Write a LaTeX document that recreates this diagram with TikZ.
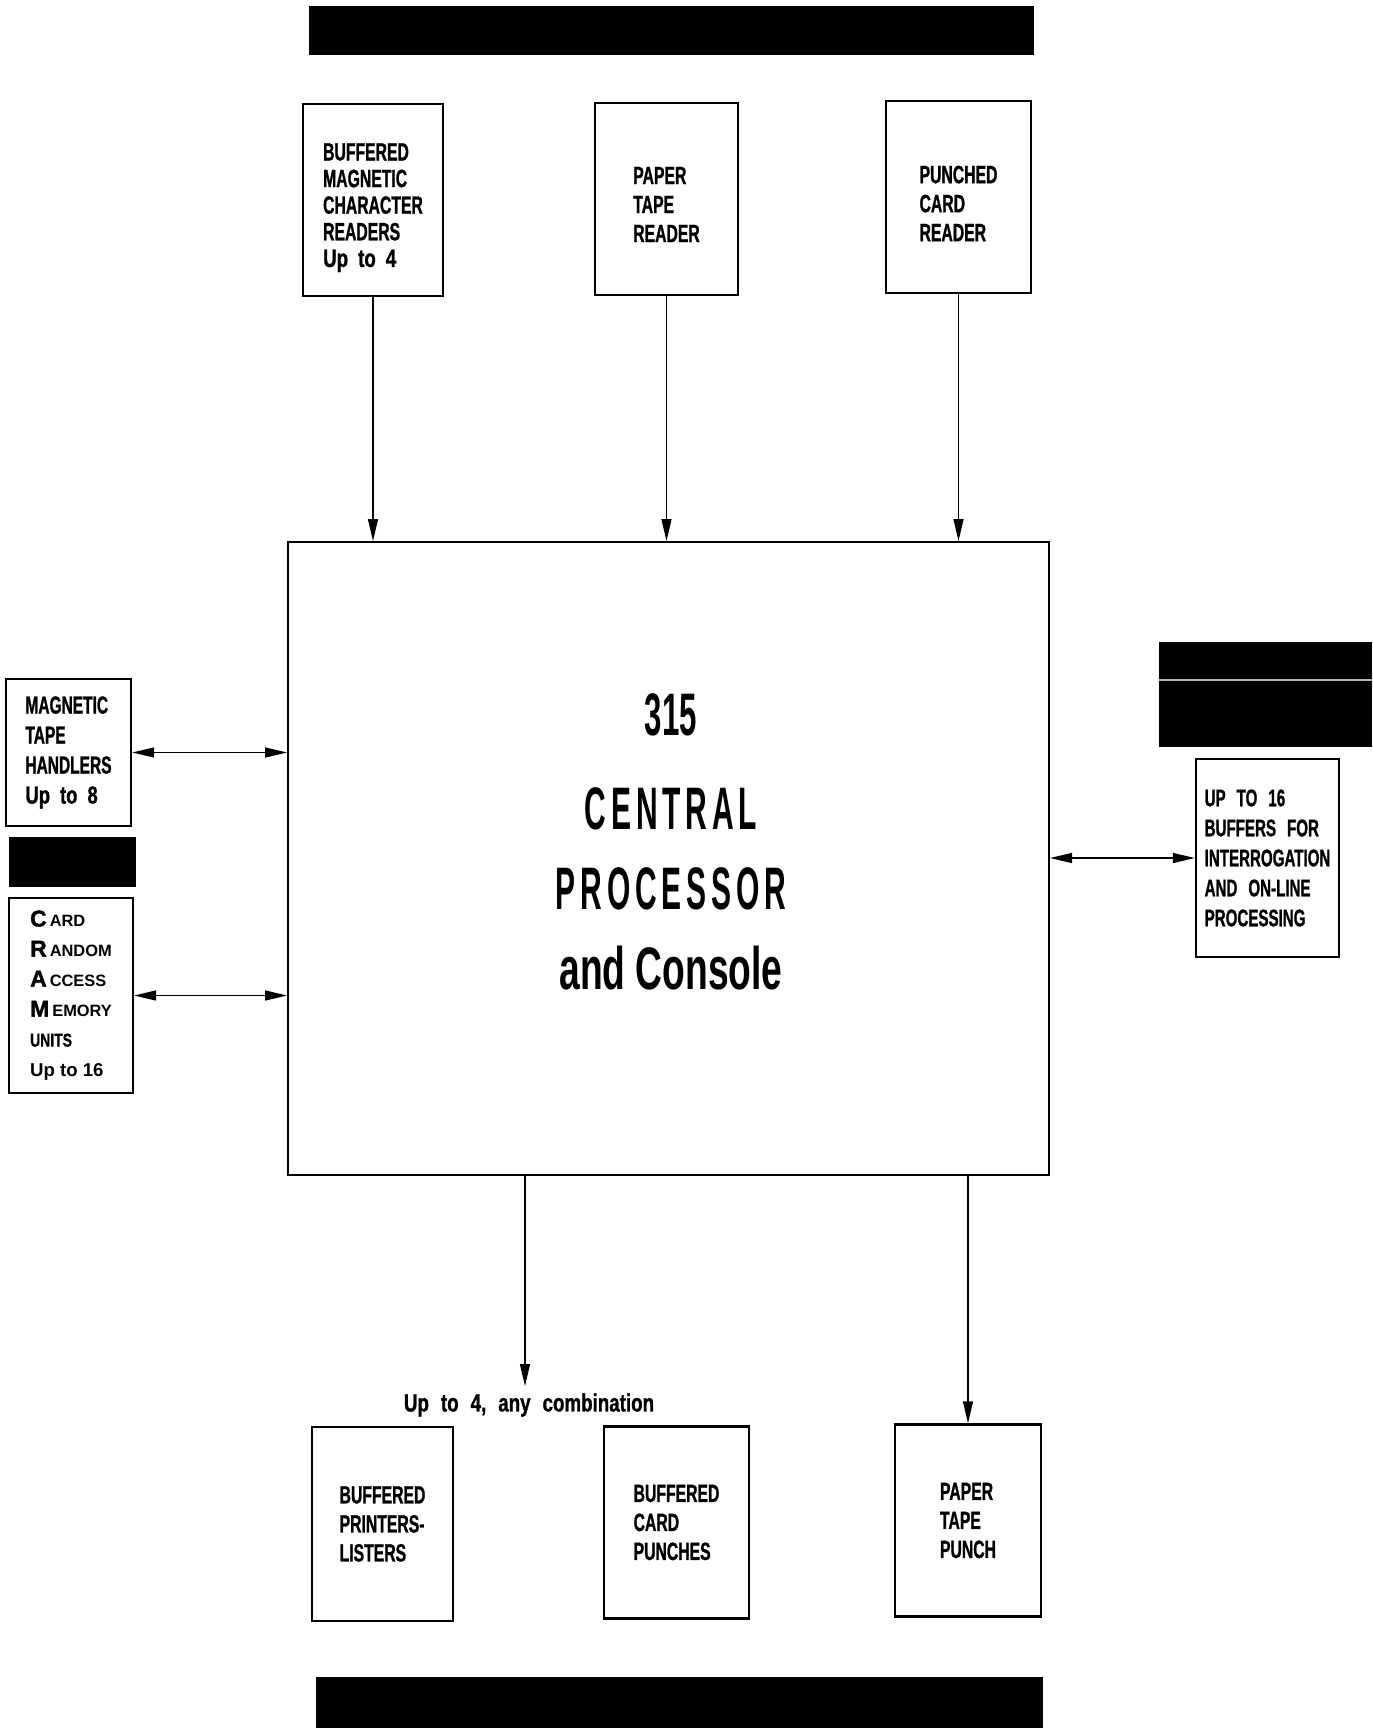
\documentclass[tikz,border=0pt]{standalone}
\usepackage{fontspec}
\setmainfont{Liberation Sans}
\newfontfamily\boxfont{Liberation Sans}[FakeStretch=0.63,FakeBold=1]
\newfontfamily\lowfont{Liberation Sans}[FakeStretch=0.75,FakeBold=1]
\newfontfamily\bigfont{Liberation Sans}[FakeStretch=0.5,LetterSpace=8]
\newfontfamily\cpufont{Liberation Sans}[FakeStretch=0.62]
\newfontfamily\numfont{Liberation Sans}[FakeStretch=0.52]
\newfontfamily\headfont{Liberation Sans}[FakeBold=1.5]
\usetikzlibrary{arrows.meta}
\newcommand\bigletter[1]{{\headfont\fontsize{11.5}{15}\selectfont #1}\kern1.5pt}
\newcommand\widespace[1]{\spaceskip=#1 plus 1pt\relax}
\tikzset{
  unit/.style={draw, line width=1.2pt, minimum width=71.5pt, minimum height=96pt,
    inner sep=0pt, align=left,
    font=\boxfont\bfseries\fontsize{12.5}{14.5}\selectfont\widespace{6pt}},
  flow/.style={line width=0.7pt, -{Triangle[length=11pt,width=5pt]}},
  both/.style={line width=0.7pt, {Triangle[length=11pt,width=5pt]}-{Triangle[length=11pt,width=5pt]}}
}
\begin{document}
\begin{tikzpicture}[x=0.5pt, y=-0.5pt]
  \useasboundingbox (0,0) rectangle (1372,1728);
  % black bars
  \fill (309,6) rectangle (1034,55);
  \fill (316,1677) rectangle (1043,1728);
  \fill (1159,642) rectangle (1372,747);
  \draw [gray!60, line width=0.8pt] (1159,680) -- (1372,680);
  \fill (9,837) rectangle (136,887);

  \node [draw, line width=1pt, minimum width=380.5pt, minimum height=316.5pt] (cpu) at (668.5,858.5) {};
  \node [inner sep=0pt, align=center, font=\bfseries\fontsize{30}{40}\selectfont] (cpulabel) at (671,841.5)
    {{\numfont 315}\\[7pt] {\bigfont CENTRAL}\\ {\bigfont PROCESSOR}\\ {\cpufont and Console}};

  \node [unit, minimum width=70pt, text height=69.5pt, font=\boxfont\bfseries\fontsize{12.5}{13.3}\selectfont\widespace{5pt}] (bmcr) at (373,200)
    {BUFFERED\\MAGNETIC\\CHARACTER\\READERS\\{\lowfont Up to 4}};
  \node [unit, text height=43.1pt] (ptr) at (666.5,199) {PAPER\\TAPE\\READER};
  \node [unit, minimum width=72.5pt, text height=44.2pt] (pcr) at (958.5,197) {PUNCHED\\CARD\\READER};

  \node [unit, minimum width=62.5pt, minimum height=73.5pt, font=\boxfont\bfseries\fontsize{12.3}{15}\selectfont\widespace{5pt}] (mth) at (68.5,752.5)
    {MAGNETIC\\TAPE\\HANDLERS\\{\lowfont Up to 8}};
  \node [unit, minimum width=62pt, minimum height=97.5pt, font=\bfseries\fontsize{8.2}{15}\selectfont] (cram) at (71,995.5)
    {\bigletter{C}ARD\\\bigletter{R}ANDOM\\\bigletter{A}CCESS\\\bigletter{M}EMORY\\
     {\lowfont\fontsize{9.3}{15}\selectfont UNITS}\\{\fontsize{9.3}{15}\selectfont Up to 16}};
  \node [unit, minimum height=99pt, font=\boxfont\bfseries\fontsize{12}{15}\selectfont\widespace{5.5pt}] (buf) at (1267.5,858)
    {UP TO 16\\BUFFERS FOR\\INTERROGATION\\AND ON-LINE\\PROCESSING};

  \node [unit, minimum width=70.5pt, minimum height=97pt] (bpl) at (382.5,1524) {BUFFERED\\PRINTERS-\\LISTERS};
  \node [unit, minimum width=72.5pt] (bcp) at (676.5,1522.5) {BUFFERED\\CARD\\PUNCHES};
  \node [unit, minimum width=73pt] (ptp) at (968,1520.5) {PAPER\\TAPE\\PUNCH};

  \draw [flow] (bmcr) -- (bmcr |- cpu.north);
  \draw [flow] (ptr) -- (ptr |- cpu.north);
  \draw [flow] (pcr) -- (pcr |- cpu.north);
  \draw [both] (mth) -- (mth -| cpu.west);
  \draw [both] (cram) -- (cram -| cpu.west);
  \draw [both] (cpu.east |- buf) -- (buf);

  \coordinate (split) at (525,1386);
  \draw [flow] (cpu.south -| split) -- (split);
  \node [font=\lowfont\bfseries\fontsize{12.5}{14}\selectfont\widespace{6pt}] (combo) at (529,1405) {Up to 4, any combination};
  \draw [flow] (cpu.south -| ptp) -- (ptp);
\end{tikzpicture}
\end{document}
